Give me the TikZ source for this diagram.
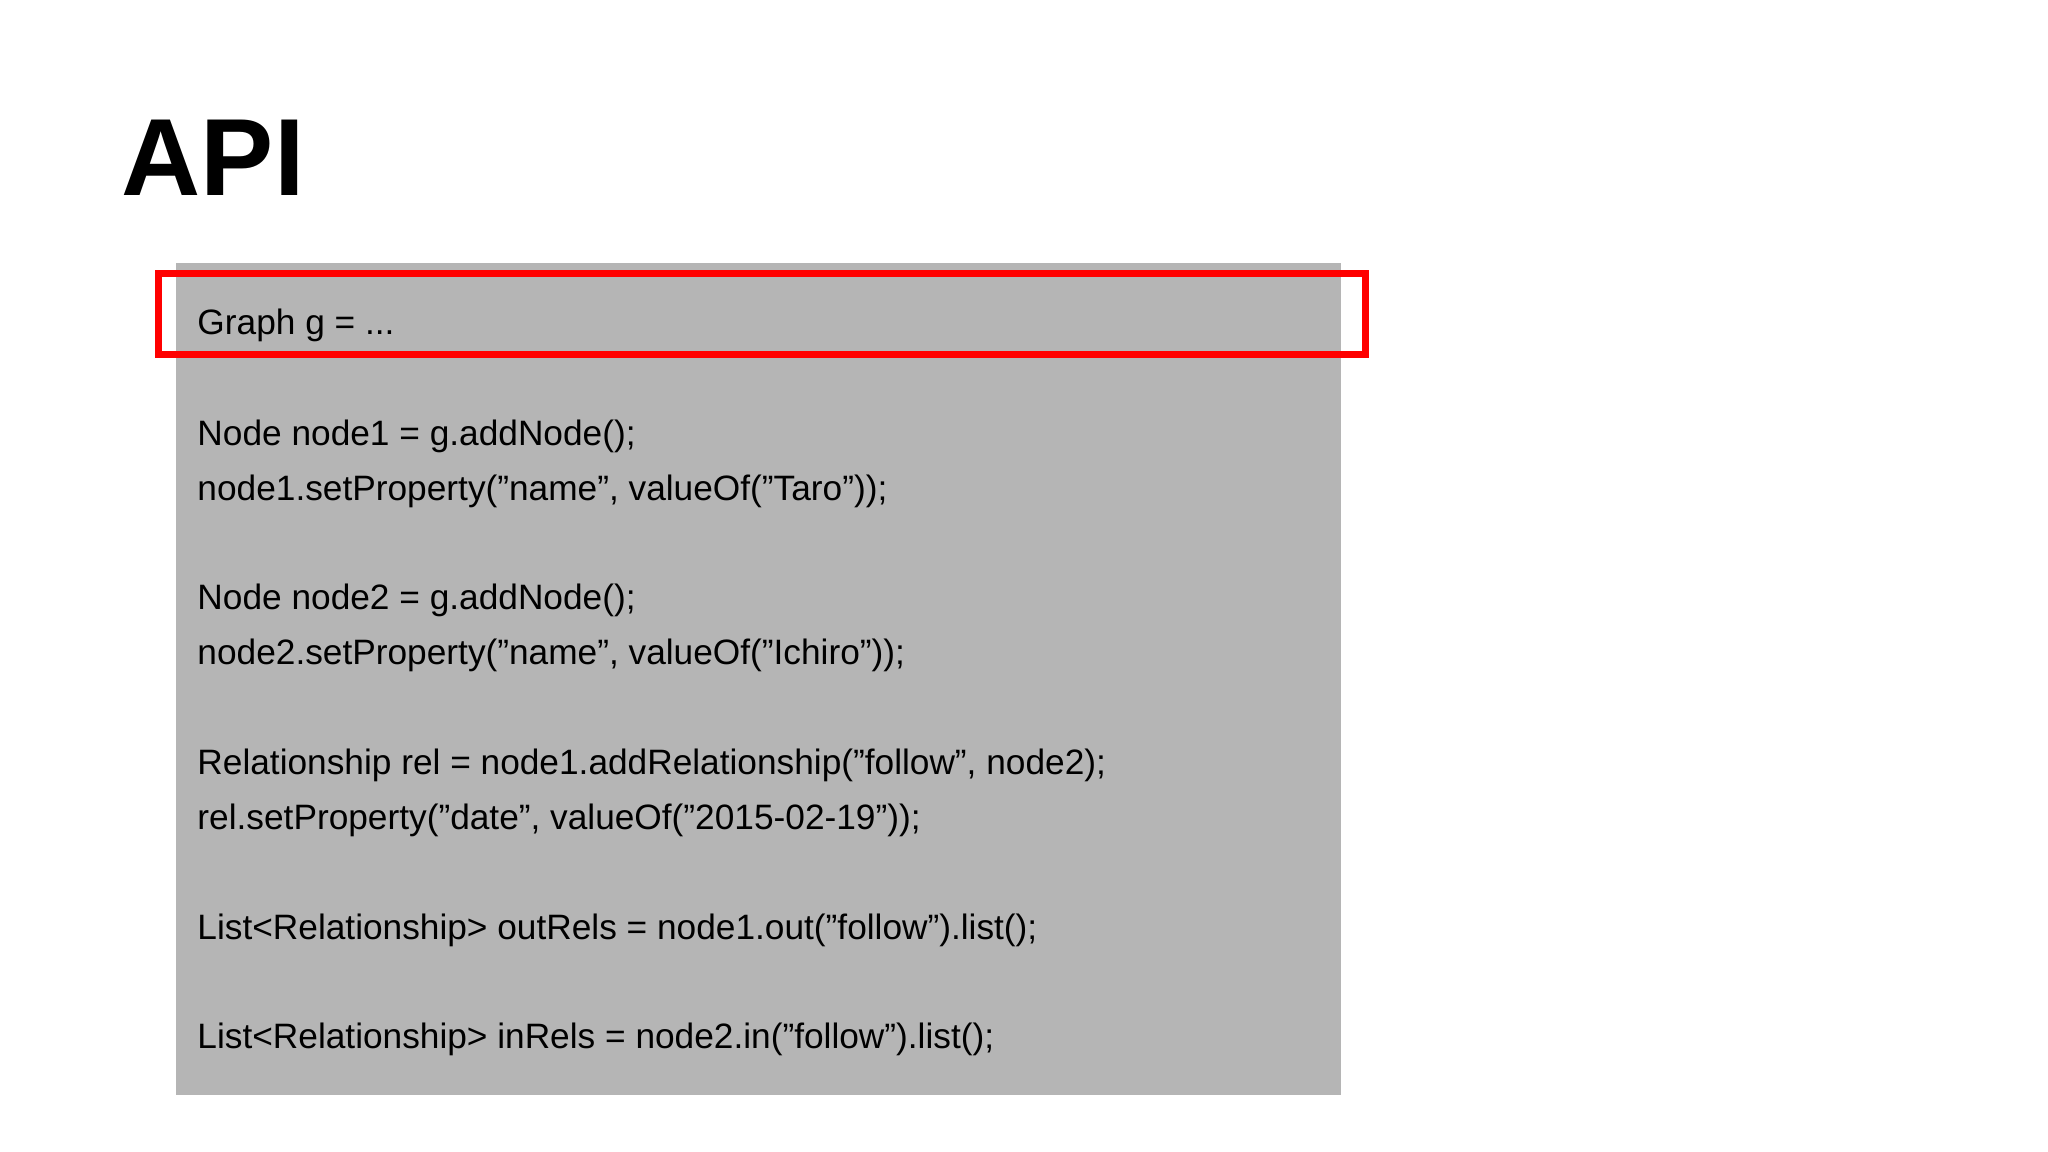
\documentclass[tikz,border=0pt]{standalone}
\usepackage{fontspec}
\setmainfont{Liberation Sans}
\begin{document}
\begin{tikzpicture}[x=1pt,y=-1pt,
  code/.style={anchor=base west,inner sep=0pt,font=\fontsize{27}{30}\selectfont}]
\useasboundingbox[fill=white] (0,0) rectangle (1568,882);
\node[anchor=base west,inner sep=0pt,font=\fontsize{84}{90}\selectfont\bfseries] (title) at (93,150) {API};
\fill[gray!58] (135,201) rectangle (1027,838);
\node[code] (l1) at (151,256) {Graph g = ...};
\node[code] (l2) at (151,341) {Node node1 = g.addNode();};
\node[code] (l3) at (151,383) {node1.setProperty("name", valueOf("Taro"));};
\node[code] (l4) at (151,467) {Node node2 = g.addNode();};
\node[code] (l5) at (151,509) {node2.setProperty("name", valueOf("Ichiro"));};
\node[code] (l6) at (151,593) {Relationship rel = node1.addRelationship("follow", node2);};
\node[code] (l7) at (151,635) {rel.setProperty("date", valueOf("2015-02-19"));};
\node[code] (l8) at (151,719) {List<Relationship> outRels = node1.out("follow").list();};
\node[code] (l9) at (151,803) {List<Relationship> inRels = node2.in("follow").list();};
\draw[red,line width=5pt] (121.5,209.5) rectangle (1045.5,271.5);
\end{tikzpicture}
\end{document}
